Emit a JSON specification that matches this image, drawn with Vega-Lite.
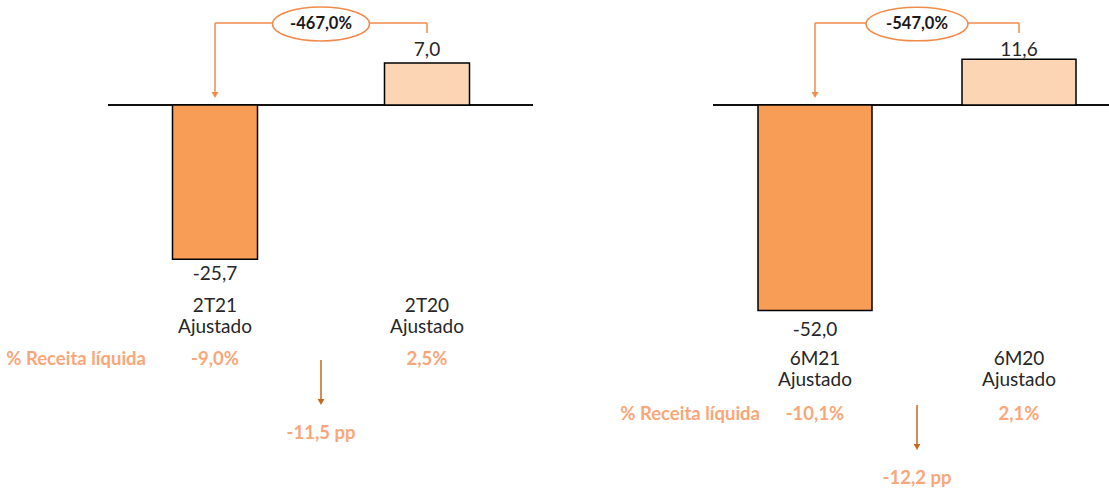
{
  "$schema": "https://vega.github.io/schema/vega-lite/v6.json",
  "padding": {"left": 6, "top": 0, "right": 0, "bottom": 0},
  "bounds": "flush",
  "spacing": 180,
  "config": {
    "view": {"stroke": null},
    "font": "Lato",
    "axis": {"disable": true},
    "legend": {"disable": true},
    "text": {"font": "Lato"}
  },
  "datasets": {
    "trimestre": [
      {"periodo": "2T21 Ajustado", "rotulo": "2T21\nAjustado", "tipo": "atual", "valor": -25.7, "valor_txt": "-25,7", "margem": "-9,0%"},
      {"periodo": "2T20 Ajustado", "rotulo": "2T20\nAjustado", "tipo": "anterior", "valor": 7.0, "valor_txt": "7,0", "margem": "2,5%"}
    ],
    "trimestre_var": [
      {"de": "2T21 Ajustado", "para": "2T20 Ajustado", "meio": "var", "variacao": "-467,0%", "delta": "-11,5 pp", "rotulo_margem": "% Receita líquida"}
    ],
    "semestre": [
      {"periodo": "6M21 Ajustado", "rotulo": "6M21\nAjustado", "tipo": "atual", "valor": -52.0, "valor_txt": "-52,0", "margem": "-10,1%"},
      {"periodo": "6M20 Ajustado", "rotulo": "6M20\nAjustado", "tipo": "anterior", "valor": 11.6, "valor_txt": "11,6", "margem": "2,1%"}
    ],
    "semestre_var": [
      {"de": "6M21 Ajustado", "para": "6M20 Ajustado", "meio": "var", "variacao": "-547,0%", "delta": "-12,2 pp", "rotulo_margem": "% Receita líquida"}
    ]
  },
  "hconcat": [
    {
      "width": 425,
      "height": 493,
      "data": {"name": "trimestre"},
      "layer": [
        {"mark": {"type": "rule", "color": "#000000", "strokeWidth": 1.5},
         "encoding": {"y": {"datum": 0, "type": "quantitative", "scale": {"domain": [-64.667, 17.5], "nice": false, "zero": false}}}},
        {"mark": {"type": "bar", "size": 85, "stroke": "#000000", "strokeWidth": 1.5},
         "encoding": {
           "x": {"field": "periodo", "type": "nominal", "scale": {"type": "point", "domain": ["2T21 Ajustado", "var", "2T20 Ajustado"], "range": [107, 319], "padding": 0}},
           "y": {"field": "valor", "type": "quantitative", "scale": {"domain": [-64.667, 17.5], "nice": false, "zero": false}},
           "fill": {"field": "tipo", "type": "nominal", "scale": {"domain": ["atual", "anterior"], "range": ["#F79D56", "#FCD6B4"]}}
         }},
        {"transform": [{"filter": "datum.valor < 0"}],
         "mark": {"type": "text", "baseline": "top", "dy": 6, "fontSize": 19, "color": "#262626"},
         "encoding": {"x": {"field": "periodo", "type": "nominal"}, "y": {"field": "valor", "type": "quantitative"}, "text": {"field": "valor_txt"}}},
        {"transform": [{"filter": "datum.valor >= 0"}],
         "mark": {"type": "text", "baseline": "bottom", "dy": -3, "fontSize": 19, "color": "#262626"},
         "encoding": {"x": {"field": "periodo", "type": "nominal"}, "y": {"field": "valor", "type": "quantitative"}, "text": {"field": "valor_txt"}}},
        {"mark": {"type": "text", "baseline": "middle", "lineBreak": "\n", "lineHeight": 21, "fontSize": 19, "color": "#262626"},
         "encoding": {"x": {"field": "periodo", "type": "nominal"}, "y": {"datum": -33.42, "type": "quantitative"}, "text": {"field": "rotulo"}}},
        {"mark": {"type": "text", "baseline": "middle", "fontSize": 18.5, "fontWeight": "bold", "color": "#F9A679"},
         "encoding": {"x": {"field": "periodo", "type": "nominal"}, "y": {"datum": -42.33, "type": "quantitative"}, "text": {"field": "margem"}}},
        {"data": {"name": "trimestre_var"},
         "mark": {"type": "rule", "color": "#F08B4C", "strokeWidth": 1.5},
         "encoding": {"x": {"field": "de", "type": "nominal"}, "x2": {"field": "para"}, "y": {"datum": 13.67, "type": "quantitative"}}},
        {"data": {"name": "trimestre_var"},
         "mark": {"type": "rule", "color": "#F08B4C", "strokeWidth": 1.5},
         "encoding": {"x": {"field": "de", "type": "nominal"}, "y": {"datum": 13.67, "type": "quantitative"}, "y2": {"datum": 2.2}}},
        {"data": {"name": "trimestre_var"},
         "mark": {"type": "rule", "color": "#F08B4C", "strokeWidth": 1.5},
         "encoding": {"x": {"field": "para", "type": "nominal"}, "y": {"datum": 13.67, "type": "quantitative"}, "y2": {"datum": 12.0}}},
        {"data": {"name": "trimestre_var"},
         "mark": {"type": "point", "shape": "triangle-down", "filled": true, "size": 45, "color": "#F08B4C", "opacity": 1},
         "encoding": {"x": {"field": "de", "type": "nominal"}, "y": {"datum": 1.67, "type": "quantitative"}}},
        {"data": {"name": "trimestre_var"},
         "mark": {"type": "point", "shape": "M-1,0A1,0.35,0,1,1,1,0A1,0.35,0,1,1,-1,0Z", "size": 9409, "fill": "#FFFFFF", "stroke": "#F08B4C", "strokeWidth": 1.5, "opacity": 1, "fillOpacity": 1},
         "encoding": {"x": {"field": "meio", "type": "nominal"}, "y": {"datum": 13.5, "type": "quantitative"}}},
        {"data": {"name": "trimestre_var"},
         "mark": {"type": "text", "baseline": "middle", "fontSize": 16.5, "fontWeight": "bold", "color": "#1A1A1A"},
         "encoding": {"x": {"field": "meio", "type": "nominal"}, "y": {"datum": 13.5, "type": "quantitative"}, "text": {"field": "variacao"}}},
        {"data": {"name": "trimestre_var"},
         "mark": {"type": "rule", "color": "#C8661C", "strokeWidth": 1.5},
         "encoding": {"x": {"field": "meio", "type": "nominal"}, "y": {"datum": -42.5, "type": "quantitative"}, "y2": {"datum": -49.0}}},
        {"data": {"name": "trimestre_var"},
         "mark": {"type": "point", "shape": "triangle-down", "filled": true, "size": 45, "color": "#C8661C", "opacity": 1},
         "encoding": {"x": {"field": "meio", "type": "nominal"}, "y": {"datum": -49.5, "type": "quantitative"}}},
        {"data": {"name": "trimestre_var"},
         "mark": {"type": "text", "baseline": "middle", "fontSize": 18.5, "fontWeight": "bold", "color": "#F9A679"},
         "encoding": {"x": {"field": "meio", "type": "nominal"}, "y": {"datum": -54.67, "type": "quantitative"}, "text": {"field": "delta"}}},
        {"data": {"name": "trimestre_var"},
         "mark": {"type": "text", "baseline": "middle", "align": "right", "dx": -69, "fontSize": 18.5, "fontWeight": "bold", "color": "#F9A679"},
         "encoding": {"x": {"field": "de", "type": "nominal"}, "y": {"datum": -42.33, "type": "quantitative"}, "text": {"field": "rotulo_margem"}}}
      ]
    },
    {
      "width": 396,
      "height": 493,
      "data": {"name": "semestre"},
      "layer": [
        {"mark": {"type": "rule", "color": "#000000", "strokeWidth": 1.5},
         "encoding": {"y": {"datum": 0, "type": "quantitative", "scale": {"domain": [-98.23, 26.58], "nice": false, "zero": false}}}},
        {"mark": {"type": "bar", "size": 114, "stroke": "#000000", "strokeWidth": 1.5},
         "encoding": {
           "x": {"field": "periodo", "type": "nominal", "scale": {"type": "point", "domain": ["6M21 Ajustado", "var", "6M20 Ajustado"], "range": [102, 306], "padding": 0}},
           "y": {"field": "valor", "type": "quantitative", "scale": {"domain": [-98.23, 26.58], "nice": false, "zero": false}},
           "fill": {"field": "tipo", "type": "nominal", "scale": {"domain": ["atual", "anterior"], "range": ["#F79D56", "#FCD6B4"]}}
         }},
        {"transform": [{"filter": "datum.valor < 0"}],
         "mark": {"type": "text", "baseline": "top", "dy": 11, "fontSize": 19, "color": "#262626"},
         "encoding": {"x": {"field": "periodo", "type": "nominal"}, "y": {"field": "valor", "type": "quantitative"}, "text": {"field": "valor_txt"}}},
        {"transform": [{"filter": "datum.valor >= 0"}],
         "mark": {"type": "text", "baseline": "bottom", "dy": 1, "fontSize": 19, "color": "#262626"},
         "encoding": {"x": {"field": "periodo", "type": "nominal"}, "y": {"field": "valor", "type": "quantitative"}, "text": {"field": "valor_txt"}}},
        {"mark": {"type": "text", "baseline": "middle", "lineBreak": "\n", "lineHeight": 21, "fontSize": 19, "color": "#262626"},
         "encoding": {"x": {"field": "periodo", "type": "nominal"}, "y": {"datum": -64.43, "type": "quantitative"}, "text": {"field": "rotulo"}}},
        {"mark": {"type": "text", "baseline": "middle", "fontSize": 18.5, "fontWeight": "bold", "color": "#F9A679"},
         "encoding": {"x": {"field": "periodo", "type": "nominal"}, "y": {"datum": -78.3, "type": "quantitative"}, "text": {"field": "margem"}}},
        {"data": {"name": "semestre_var"},
         "mark": {"type": "rule", "color": "#F08B4C", "strokeWidth": 1.5},
         "encoding": {"x": {"field": "de", "type": "nominal"}, "x2": {"field": "para"}, "y": {"datum": 20.76, "type": "quantitative"}}},
        {"data": {"name": "semestre_var"},
         "mark": {"type": "rule", "color": "#F08B4C", "strokeWidth": 1.5},
         "encoding": {"x": {"field": "de", "type": "nominal"}, "y": {"datum": 20.76, "type": "quantitative"}, "y2": {"datum": 2.9}}},
        {"data": {"name": "semestre_var"},
         "mark": {"type": "rule", "color": "#F08B4C", "strokeWidth": 1.5},
         "encoding": {"x": {"field": "para", "type": "nominal"}, "y": {"datum": 20.76, "type": "quantitative"}, "y2": {"datum": 18.23}}},
        {"data": {"name": "semestre_var"},
         "mark": {"type": "point", "shape": "triangle-down", "filled": true, "size": 45, "color": "#F08B4C", "opacity": 1},
         "encoding": {"x": {"field": "de", "type": "nominal"}, "y": {"datum": 2.53, "type": "quantitative"}}},
        {"data": {"name": "semestre_var"},
         "mark": {"type": "point", "shape": "M-1,0A1,0.33,0,1,1,1,0A1,0.33,0,1,1,-1,0Z", "size": 10404, "fill": "#FFFFFF", "stroke": "#F08B4C", "strokeWidth": 1.5, "opacity": 1, "fillOpacity": 1},
         "encoding": {"x": {"field": "meio", "type": "nominal"}, "y": {"datum": 20.5, "type": "quantitative"}}},
        {"data": {"name": "semestre_var"},
         "mark": {"type": "text", "baseline": "middle", "fontSize": 16.5, "fontWeight": "bold", "color": "#1A1A1A"},
         "encoding": {"x": {"field": "meio", "type": "nominal"}, "y": {"datum": 20.5, "type": "quantitative"}, "text": {"field": "variacao"}}},
        {"data": {"name": "semestre_var"},
         "mark": {"type": "rule", "color": "#C8661C", "strokeWidth": 1.5},
         "encoding": {"x": {"field": "meio", "type": "nominal"}, "y": {"datum": -75.95, "type": "quantitative"}, "y2": {"datum": -85.82}}},
        {"data": {"name": "semestre_var"},
         "mark": {"type": "point", "shape": "triangle-down", "filled": true, "size": 45, "color": "#C8661C", "opacity": 1},
         "encoding": {"x": {"field": "meio", "type": "nominal"}, "y": {"datum": -86.58, "type": "quantitative"}}},
        {"data": {"name": "semestre_var"},
         "mark": {"type": "text", "baseline": "middle", "fontSize": 18.5, "fontWeight": "bold", "color": "#F9A679"},
         "encoding": {"x": {"field": "meio", "type": "nominal"}, "y": {"datum": -94.43, "type": "quantitative"}, "text": {"field": "delta"}}},
        {"data": {"name": "semestre_var"},
         "mark": {"type": "text", "baseline": "middle", "align": "right", "dx": -55, "fontSize": 18.5, "fontWeight": "bold", "color": "#F9A679"},
         "encoding": {"x": {"field": "de", "type": "nominal"}, "y": {"datum": -78.3, "type": "quantitative"}, "text": {"field": "rotulo_margem"}}}
      ]
    }
  ]
}
